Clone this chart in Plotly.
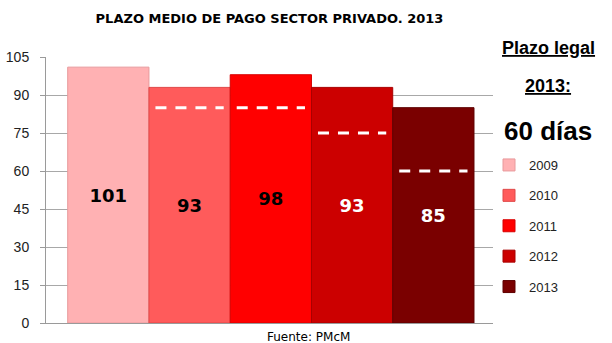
import plotly.graph_objects as go

years = ["2009", "2010", "2011", "2012", "2013"]
plazo_medio = [101, 93, 98, 93, 85]
plazo_legal = [None, 85, 85, 75, 60]
bar_colors = ["#FFB1B3", "#FF5B5B", "#FF0000", "#CC0000", "#7A0000"]
edge_colors = ["#E89A9C", "#E04848", "#D80000", "#A80000", "#5E0000"]
label_colors = ["#000000", "#000000", "#000000", "#FFFFFF", "#FFFFFF"]
y_ticks = [0, 15, 30, 45, 60, 75, 90, 105]

fig = go.Figure()
for i, (yr, v) in enumerate(zip(years, plazo_medio)):
    fig.add_trace(go.Bar(
        x=[i], y=[v], width=1, name=yr, legendgroup=yr,
        marker=dict(color=bar_colors[i], line=dict(color=edge_colors[i], width=1)),
        text=[str(v)], textposition="inside", insidetextanchor="middle",
        textfont=dict(family="DejaVu Sans", size=18, color=label_colors[i], weight="bold"),
        textangle=0, hoverinfo="skip",
    ))
for i, lv in enumerate(plazo_legal):
    if lv is None:
        continue
    fig.add_trace(go.Scatter(
        x=[i - 0.42, i + 0.42], y=[lv, lv], mode="lines",
        line=dict(color="white", width=3, dash="11px,9px"),
        showlegend=False, hoverinfo="skip",
    ))

fig.update_layout(
    width=612, height=343, barmode="overlay",
    margin=dict(l=46, r=119, t=57, b=20, autoexpand=False),
    paper_bgcolor="white", plot_bgcolor="white",
    title=dict(text="<b>PLAZO MEDIO DE PAGO SECTOR PRIVADO. 2013</b>",
               font=dict(family="DejaVu Sans", size=13, color="black"),
               x=(46 + 493) / 2 / 612, xanchor="center", y=1 - 18 / 343, yanchor="middle"),
    xaxis=dict(range=[-0.767, 4.734], showticklabels=False, showgrid=False,
               zeroline=False, showline=True, linecolor="#9A9A9A", linewidth=1),
    yaxis=dict(range=[0, 105], tickvals=y_ticks, showgrid=True, gridcolor="#A8A8A8",
               zeroline=False, showline=True, linecolor="#9A9A9A", linewidth=1,
               ticks="outside", ticklen=5, tickcolor="#9A9A9A",
               ticklabelstandoff=8,
               tickfont=dict(family="Liberation Sans", size=14, color="#222222")),
    legend=dict(x=(489 - 46) / 447, xanchor="left", y=(323 - 150) / 266, yanchor="top",
                font=dict(family="Liberation Sans", size=13, color="#222222"),
                tracegroupgap=10.5, traceorder="grouped", bgcolor="rgba(0,0,0,0)",
                itemwidth=30),
    showlegend=True,
)

ann_x = (548 - 46) / 447
fig.add_annotation(text="<b>Plazo legal</b>", xref="paper", yref="paper",
                   x=ann_x, y=(323 - 48) / 266, xanchor="center", yanchor="middle", showarrow=False,
                   font=dict(family="Liberation Sans", size=18, color="black", lineposition="under"))
fig.add_annotation(text="<b>2013:</b>", xref="paper", yref="paper",
                   x=ann_x, y=(323 - 86) / 266, xanchor="center", yanchor="middle", showarrow=False,
                   font=dict(family="Liberation Sans", size=18, color="black", lineposition="under"))
fig.add_annotation(text="<b>60 días</b>", xref="paper", yref="paper",
                   x=ann_x, y=(323 - 131) / 266, xanchor="center", yanchor="middle", showarrow=False,
                   font=dict(family="Liberation Sans", size=26, color="black"))
fig.add_annotation(text="Fuente: PMcM", xref="paper", yref="paper",
                   x=(308 - 46) / 447, y=-14 / 266, xanchor="center", yanchor="middle", showarrow=False,
                   font=dict(family="DejaVu Sans", size=12, color="black"))

fig.write_html("out.html")
